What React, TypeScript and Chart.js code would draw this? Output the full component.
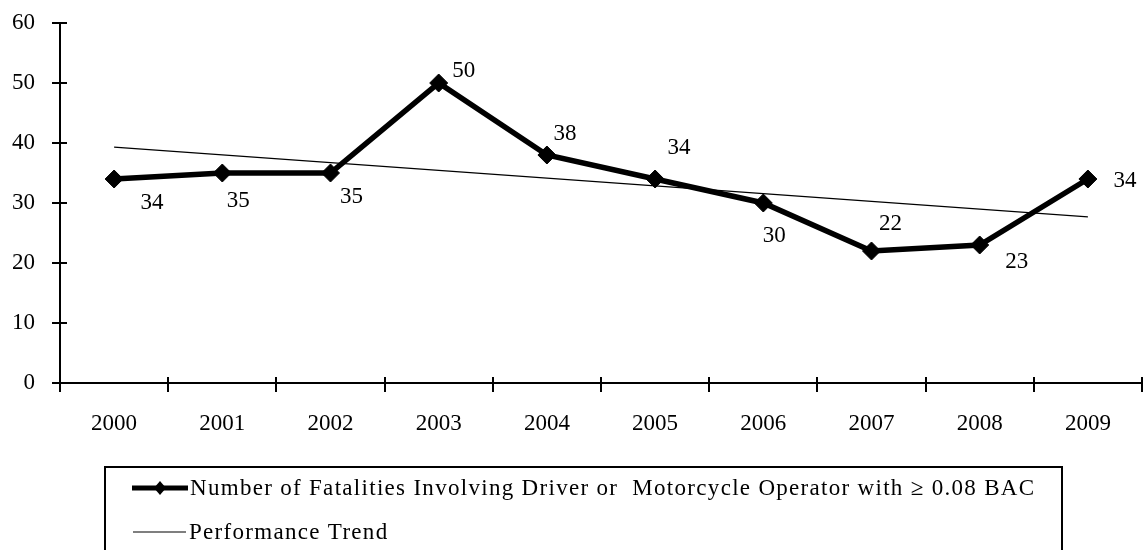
import React, { useEffect, useRef } from "react";
import { Chart, registerables } from "chart.js";

Chart.register(...registerables);

const years = ["2000", "2001", "2002", "2003", "2004", "2005", "2006", "2007", "2008", "2009"];
const fatalities = [34, 35, 35, 50, 38, 34, 30, 22, 23, 34];
const trendStart = 39.3;
const trendEnd = 27.7;
const yTicks = [0, 10, 20, 30, 40, 50, 60];
const seriesLabel = "Number of Fatalities Involving Driver or  Motorcycle Operator with \u2265 0.08 BAC";
const trendLabel = "Performance Trend";

// pixel offsets of each value label relative to its point (style only)
const labelOffsets: [number, number][] = [
  [38, 24], [16, 28], [21, 24], [25, -12], [18, -21],
  [24, -31], [11, 33], [19, -27], [37, 17], [37, 2],
];

const FONT = "Liberation Serif";
const FONT_SIZE = 23;

const axisTicksPlugin = {
  id: "axisTicks",
  afterDraw(chart: any) {
    const ctx = chart.ctx;
    const xs = chart.scales.x;
    const ys = chart.scales.y;
    ctx.save();
    ctx.strokeStyle = "#000";
    ctx.lineWidth = 2;
    for (let i = 0; i <= years.length; i++) {
      const px = Math.round(xs.getPixelForValue(i - 0.5));
      ctx.beginPath();
      ctx.moveTo(px, ys.bottom - 6);
      ctx.lineTo(px, ys.bottom + 9);
      ctx.stroke();
    }
    for (const v of yTicks) {
      const py = Math.round(ys.getPixelForValue(v));
      ctx.beginPath();
      ctx.moveTo(xs.left - 8, py);
      ctx.lineTo(xs.left + 7, py);
      ctx.stroke();
    }
    ctx.restore();
  },
};

const valueLabelsPlugin = {
  id: "valueLabels",
  afterDatasetsDraw(chart: any) {
    const ctx = chart.ctx;
    const meta = chart.getDatasetMeta(0);
    ctx.save();
    ctx.fillStyle = "#000";
    ctx.font = `${FONT_SIZE}px "${FONT}"`;
    ctx.textAlign = "center";
    ctx.textBaseline = "middle";
    meta.data.forEach((pt: any, i: number) => {
      const [dx, dy] = labelOffsets[i];
      ctx.fillText(String(fatalities[i]), pt.x + dx, pt.y + dy);
    });
    ctx.restore();
  },
};

const boxLegendPlugin = {
  id: "boxLegend",
  afterDraw(chart: any) {
    const ctx = chart.ctx;
    ctx.save();
    ctx.strokeStyle = "#000";
    ctx.lineWidth = 2;
    ctx.strokeRect(105, 467, 957, 100);
    // row 1: thick line with diamond
    const y1 = 488;
    ctx.lineWidth = 5;
    ctx.beginPath();
    ctx.moveTo(132, y1);
    ctx.lineTo(188, y1);
    ctx.stroke();
    ctx.fillStyle = "#000";
    ctx.beginPath();
    ctx.moveTo(160, y1 - 7);
    ctx.lineTo(166, y1);
    ctx.lineTo(160, y1 + 7);
    ctx.lineTo(154, y1);
    ctx.closePath();
    ctx.fill();
    // row 2: thin line
    const y2 = 532;
    ctx.lineWidth = 1.2;
    ctx.beginPath();
    ctx.moveTo(133, y2);
    ctx.lineTo(186, y2);
    ctx.stroke();
    ctx.font = `${FONT_SIZE}px "${FONT}"`;
    ctx.textAlign = "left";
    ctx.textBaseline = "middle";
    (ctx as any).letterSpacing = "1.3px";
    ctx.fillText(chart.data.datasets[0].label, 190, y1 + 1);
    ctx.fillText(chart.data.datasets[1].label, 189, y2 + 1);
    (ctx as any).letterSpacing = "0px";
    ctx.restore();
  },
};

export default function App() {
  const ref = useRef<HTMLCanvasElement | null>(null);
  useEffect(() => {
    if (!ref.current) return;
    const trend = years.map((_, i) => (i === 0 ? trendStart : i === years.length - 1 ? trendEnd : null));
    const chart = new Chart(ref.current, {
      type: "line",
      data: {
        labels: years,
        datasets: [
          {
            label: seriesLabel,
            data: fatalities,
            borderColor: "#000",
            backgroundColor: "#000",
            borderWidth: 5.5,
            pointStyle: "rectRot",
            pointRadius: 9,
            pointBorderWidth: 1,
            pointBackgroundColor: "#000",
            pointBorderColor: "#000",
            tension: 0,
          },
          {
            label: trendLabel,
            data: trend,
            borderColor: "#000",
            borderWidth: 1.2,
            pointRadius: 0,
            spanGaps: true,
            tension: 0,
          },
        ],
      },
      options: {
        animation: false,
        responsive: false,
        layout: { autoPadding: false, padding: { top: 23, right: 3, bottom: 0, left: 0 } },
        plugins: {
          legend: { display: false },
          tooltip: { enabled: false },
        },
        scales: {
          x: {
            type: "category",
            offset: true,
            grid: { display: false, drawTicks: false },
            border: { display: true, color: "#000", width: 2 },
            ticks: {
              color: "#000",
              padding: 27,
              maxRotation: 0,
              font: { family: FONT, size: FONT_SIZE },
            },
            afterFit(scale: any) {
              scale.height = 167;
              scale.paddingLeft = 0;
              scale.paddingRight = 0;
              scale.paddingTop = 0;
              scale.paddingBottom = 0;
            },
          },
          y: {
            min: 0,
            max: 60,
            grid: { display: false, drawTicks: false },
            border: { display: true, color: "#000", width: 2 },
            ticks: {
              stepSize: 10,
              color: "#000",
              padding: 25,
              font: { family: FONT, size: FONT_SIZE },
            },
            afterFit(scale: any) {
              scale.width = 60;
              scale.paddingLeft = 0;
              scale.paddingRight = 0;
              scale.paddingTop = 0;
              scale.paddingBottom = 0;
            },
          },
        },
      },
      plugins: [axisTicksPlugin, valueLabelsPlugin, boxLegendPlugin],
    });
    return () => chart.destroy();
  }, []);
  return (
    <div style={{ position: "absolute", left: 0, top: 0, width: 1145, height: 550, background: "#fff" }}>
      <canvas ref={ref} width={1145} height={550} style={{ display: "block" }} />
    </div>
  );
}
